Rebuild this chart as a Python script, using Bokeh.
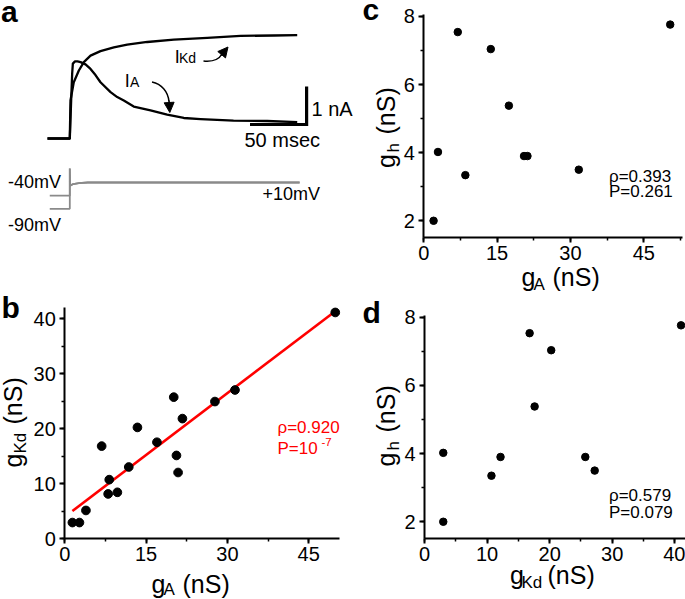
import numpy as np
from bokeh.plotting import figure
from bokeh.models import (Label, Range1d, SingleIntervalTicker, Arrow, NormalHead,
                          LinearAxis)
from bokeh.embed import file_html
from bokeh.resources import INLINE

# ---------------- data ----------------
# panel a: whole-cell currents (time in ms, current in nA)
t_IA = [-19.7, 0.0, 1.2, 2.1, 2.7, 4.6, 6.8, 9.5, 13.9, 18.3, 22.7, 27.1, 36.0, 41.9,
        47.7, 56.5, 71.3, 86.0, 100.7, 115.5, 144.6, 174.4, 200.9]
I_IA = [0.0, 0.0, 1.0, 1.71, 1.97, 2.03, 2.03, 2.01, 1.95, 1.83, 1.67, 1.48, 1.22, 1.09,
        1.0, 0.84, 0.74, 0.63, 0.54, 0.51, 0.47, 0.46, 0.43]
t_IKd = [-19.7, 0.0, 0.6, 3.5, 8.0, 12.4, 18.3, 27.1, 38.9, 50.7, 68.4, 91.9, 121.4,
         150.8, 180.2, 200.9]
I_IKd = [0.0, 0.0, 1.0, 1.48, 1.79, 2.01, 2.18, 2.30, 2.40, 2.47, 2.54, 2.60, 2.65,
         2.70, 2.71, 2.72]
# voltage protocol (mV)
t_V = [-17.7, 0.0, 0.0, 0.3, 3.0, 8.0, 16.0, 203.0]
V_hold40 = [-40, -40, 63, -2, 4, 7.5, 10, 10]
V_hold90 = [-90, -90, 63, -2, 4, 7.5, 10, 10]
scale_ms = 50
scale_nA = 1

# panel b: gA vs gKd
gA_b = [1.4, 2.7, 3.9, 6.8, 8.0, 8.2, 9.7, 11.8, 13.4, 17.0, 20.1, 20.6, 20.9, 21.7, 27.7, 31.4, 49.9]
gKd_b = [2.9, 2.9, 5.1, 16.8, 8.1, 10.7, 8.4, 13.0, 20.2, 17.5, 25.7, 15.1, 12.0, 21.8, 24.9, 27.0, 41.1]
# panel c: gA vs gh
gA_c = [2.0, 2.9, 6.95, 8.5, 13.7, 17.4, 20.5, 21.2, 31.7, 50.4]
gh_c = [2.0, 4.02, 7.54, 3.34, 7.04, 5.38, 3.9, 3.9, 3.5, 7.76]
# panel d: gKd vs gh
gKd_d = [3.0, 3.0, 10.7, 12.15, 16.8, 17.6, 20.25, 25.7, 27.2, 41.0]
gh_d = [4.02, 2.0, 3.35, 3.9, 7.53, 5.38, 7.03, 3.9, 3.5, 7.76]

stats_b = ["\u03c1=0.920", "P=10", "-7"]
stats_c = ["\u03c1=0.393", "P=0.261"]
stats_d = ["\u03c1=0.579", "P=0.079"]

# ---------------- canvas & helpers ----------------
W, H = 685, 599
FONT = "Liberation Sans"


def fs(px):
    return f"{px}px"


p = figure(width=W, height=H, x_range=Range1d(0, W), y_range=Range1d(H, 0),
           output_backend="svg", toolbar_location=None, x_axis_type=None, y_axis_type=None,
           min_border_left=0, min_border_right=0, min_border_top=0, min_border_bottom=0)
p.outline_line_color = None
p.background_fill_color = "white"
p.border_fill_color = "white"

# panel coordinate systems: (px of data origin, px per data unit, data origin)
PANELS = {
    "a": dict(X0=69.3, Y0=138.0, kx=1.132, ky=38.0, x0=0.0, y0=0.0),
    "b": dict(X0=64.3, Y0=538.0, kx=5.42, ky=5.5, x0=0.0, y0=0.0),
    "c": dict(X0=423.3, Y0=237.3, kx=4.889, ky=34.06, x0=0.0, y0=1.5),
    "d": dict(X0=424.0, Y0=538.3, kx=6.257, ky=34.1, x0=0.0, y0=1.5),
}
xr, yr = {}, {}
for name, g in PANELS.items():
    L, B = g["X0"], g["Y0"]
    kx, ky = g["kx"], g["ky"]
    xr[name + "x"] = Range1d(g["x0"] - L / kx, g["x0"] + (W - L) / kx)
    yr[name + "y"] = Range1d(g["y0"] - (H - B) / ky, g["y0"] + B / ky)
p.extra_x_ranges = xr
p.extra_y_ranges = yr


def axes(name, xb, yb, xint, yint):
    g = PANELS[name]
    common = dict(x_range_name=name + "x", y_range_name=name + "y",
                  axis_line_width=2, axis_line_color="black",
                  major_tick_line_width=2, minor_tick_line_width=1.5,
                  major_tick_out=5, major_tick_in=0, minor_tick_out=3, minor_tick_in=0,
                  major_label_text_font=FONT, major_label_text_font_size=fs(20),
                  major_label_text_color="black")
    xa = LinearAxis(fixed_location=g["y0"], bounds=xb,
                    ticker=SingleIntervalTicker(interval=xint, num_minor_ticks=2),
                    major_label_standoff=3, **common)
    ya = LinearAxis(fixed_location=g["x0"], bounds=yb,
                    ticker=SingleIntervalTicker(interval=yint, num_minor_ticks=2),
                    major_label_standoff=4, **common)
    p.add_layout(xa, "below")
    p.add_layout(ya, "left")


ROT = np.pi / 2


def lab(X, Y, text, size, color="black", bold=False, angle=0.0, align="left"):
    # compensate the renderer's baseline placement (text drawn ~0.25em+2px low)
    off = 0.25 * size + 2
    if angle:
        X -= off
    else:
        Y -= off
    p.add_layout(Label(x=X, y=Y, text=text, text_font=FONT, text_font_size=fs(size),
                       text_color=color, text_font_style="bold" if bold else "normal",
                       angle=angle, text_align=align, text_baseline="alphabetic"))


# ---------------- panel a ----------------
V_K = 0.00692
V_Y0 = -1.227
ra = dict(x_range_name="ax", y_range_name="ay")
p.line(t_V, [V_Y0 + V_K * v for v in V_hold90], line_color="#8a8a8a", line_width=1.8, **ra)
p.line(t_V, [V_Y0 + V_K * v for v in V_hold40], line_color="#8a8a8a", line_width=1.8, **ra)
p.line(t_IKd, I_IKd, line_color="black", line_width=2.3, line_join="round", **ra)
p.line(t_IA, I_IA, line_color="black", line_width=2.3, line_join="round", **ra)

# scale bar (corner position chosen in data units)
c_t, c_i = 209.2, 0.368
p.line([c_t - scale_ms, c_t, c_t], [c_i, c_i, c_i + scale_nA], line_color="black",
       line_width=3.2, line_join="miter", **ra)


def curve(P0, P1, P2, P3):
    p.bezier(x0=[P0[0]], y0=[P0[1]], cx0=[P1[0]], cy0=[P1[1]],
             cx1=[P2[0]], cy1=[P2[1]], x1=[P3[0]], y1=[P3[1]],
             line_color="black", line_width=1.5)


def head(P0, P1):
    p.add_layout(Arrow(end=NormalHead(size=10, fill_color="black", line_color="black", line_width=1),
                       x_start=P0[0], y_start=P0[1], x_end=P1[0], y_end=P1[1],
                       line_color="black", line_width=1.5))


curve((203, 60.5), (213, 61.5), (219, 58), (221.5, 53.5))
head((220.5, 55), (227.5, 46.5))
curve((151.5, 81.5), (161, 83.5), (167.5, 91), (168.5, 101))
head((168.5, 100), (169.3, 112))

lab(0.5, 20, "a", 30, bold=True)
lab(174.3, 63, "I", 18)
lab(178.5, 63, "Kd", 14)
lab(124.3, 87, "I", 18)
lab(129.5, 87, "A", 14)
lab(311, 115, "1 nA", 20)
lab(244, 146.7, "50 msec", 20)
lab(7.5, 188.3, "-40mV", 18)
lab(7.5, 230.7, "-90mV", 18)
lab(262, 200, "+10mV", 18)

# ---------------- panel b ----------------
axes("b", (0, 50.7), (0, 42.05), 15, 10)
k, b0 = np.polyfit(gA_b, gKd_b, 1)
xf = np.array([min(gA_b), max(gA_b)])
p.line(xf, k * xf + b0, line_color="#ff0000", line_width=2.6, x_range_name="bx", y_range_name="by")
p.scatter(gA_b, gKd_b, size=8.7, color="black", x_range_name="bx", y_range_name="by")
lab(1, 316, "b", 30, bold=True)
lab(151, 592, "g", 25)
lab(163, 595.5, "A", 17)
lab(182, 592, "(nS)", 25)
lab(21, 467, "g", 25, angle=ROT)
lab(26, 453, "Kd", 17, angle=ROT)
lab(21, 424, "(nS)", 25, angle=ROT)
lab(277, 433.5, stats_b[0], 17, color="#ff0000")
lab(277, 454, stats_b[1], 17, color="#ff0000")
lab(321, 446.5, stats_b[2], 11.5, color="#ff0000")

# ---------------- panel c ----------------
axes("c", (0, 53.0), (1.5, 8.05), 15, 2)
p.scatter(gA_c, gh_c, size=7.5, color="black", x_range_name="cx", y_range_name="cy")
lab(362, 18, "c", 30, bold=True)
lab(521, 285, "g", 25)
lab(533, 290, "A", 17)
lab(552, 285, "(nS)", 25)
lab(394, 167.5, "g", 25, angle=ROT)
lab(399, 152, "h", 17, angle=ROT)
lab(394, 134, "(nS)", 25, angle=ROT)
lab(608.5, 182, stats_c[0], 17)
lab(608.5, 197.5, stats_c[1], 17)

# ---------------- panel d ----------------
axes("d", (0, 41.7), (1.5, 8.05), 10, 2)
p.scatter(gKd_d, gh_d, size=7.5, color="black", x_range_name="dx", y_range_name="dy")
lab(362, 321, "d", 30, bold=True)
lab(509.5, 583, "g", 25)
lab(521, 588, "Kd", 17)
lab(547, 583, "(nS)", 25)
lab(394, 466, "g", 25, angle=ROT)
lab(399, 450, "h", 17, angle=ROT)
lab(394, 432, "(nS)", 25, angle=ROT)
lab(608.5, 501, stats_d[0], 17)
lab(608.5, 518.5, stats_d[1], 17)

open("out.html", "w").write(file_html(p, INLINE))
